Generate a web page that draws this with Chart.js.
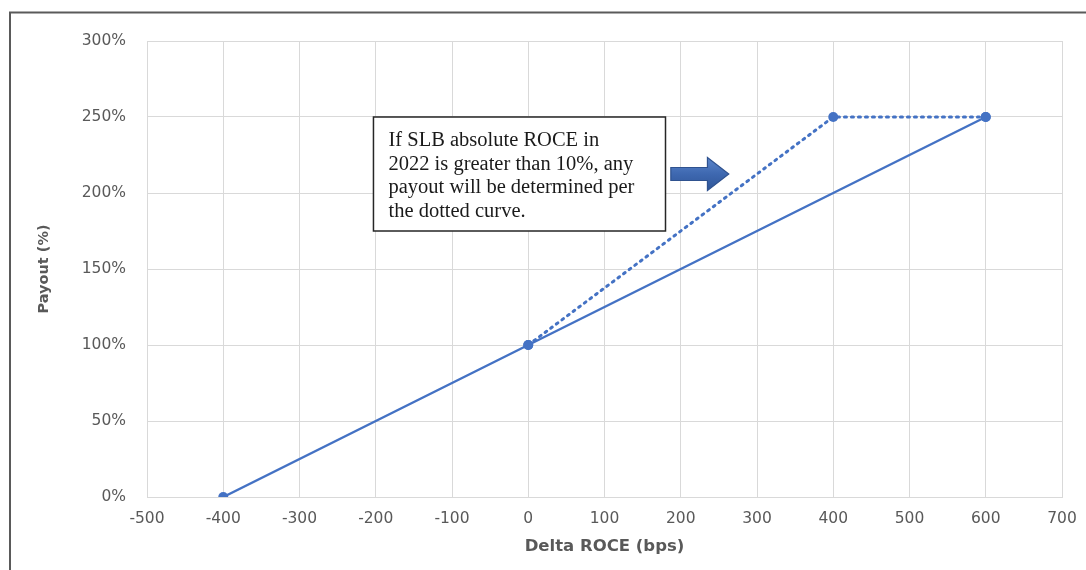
<!DOCTYPE html>
<html>
<head>
<meta charset="utf-8">
<script src="https://cdn.jsdelivr.net/npm/chart.js@4.4.0/dist/chart.umd.min.js"></script>
<style>
  html, body { margin: 0; padding: 0; background: #ffffff; }
  #wrap { width: 1086px; height: 570px; position: relative; }
</style>
</head>
<body>
<div id="wrap"><canvas id="c" width="1086" height="570"></canvas></div>
<script>
// ---- data ----
const baseX = [-400, 0, 600];
const baseY = [0, 100, 250];
const dottedX = [0, 400, 600];
const dottedY = [100, 250, 250];
const xTicks = [-500, -400, -300, -200, -100, 0, 100, 200, 300, 400, 500, 600, 700];
const yTicks = [0, 50, 100, 150, 200, 250, 300];
const noteLines = [
  "If SLB absolute ROCE in",
  "2022 is greater than 10%, any",
  "payout will be determined per",
  "the dotted curve."
];
const xTitle = "Delta ROCE (bps)";
const yTitle = "Payout (%)";

const blue = '#4472c4';
const gridCol = '#d9d9d9';
const txtCol = '#595959';
const sansFam = '"DejaVu Sans", "Open Sans", sans-serif';

const framePlugin = {
  id: 'frame',
  beforeDraw(chart) {
    const ctx = chart.ctx;
    ctx.save();
    ctx.fillStyle = '#ffffff';
    ctx.fillRect(0, 0, chart.width, chart.height);
    ctx.strokeStyle = '#5a5a5a';
    ctx.lineWidth = 2;
    ctx.beginPath();
    ctx.moveTo(10, 570);
    ctx.lineTo(10, 12.5);
    ctx.lineTo(1086, 12.5);
    ctx.stroke();
    ctx.restore();
  }
};

const notePlugin = {
  id: 'note',
  afterDatasetsDraw(chart) {
    const ctx = chart.ctx;
    const xs = chart.scales.x, ys = chart.scales.y;
    const l = xs.getPixelForValue(-203), r = xs.getPixelForValue(180);
    const t = ys.getPixelForValue(250), b = ys.getPixelForValue(175);
    ctx.save();
    ctx.fillStyle = '#ffffff';
    ctx.fillRect(l, t, r - l, b - t);
    ctx.strokeStyle = '#262626';
    ctx.lineWidth = 1.5;
    ctx.strokeRect(l, t, r - l, b - t);
    ctx.fillStyle = '#1a1a1a';
    ctx.font = '20.5px "Liberation Serif", "Times New Roman", serif';
    ctx.textBaseline = 'middle';
    ctx.textAlign = 'left';
    noteLines.forEach((s, i) => {
      ctx.fillText(s, l + 15, t + 24 + i * 23.5);
    });
    // arrow
    const ax0 = xs.getPixelForValue(187), ax1 = xs.getPixelForValue(263);
    const axh = xs.getPixelForValue(235);
    const yc = ys.getPixelForValue(212.5);
    const bodyH = 6.5, headH = 16.5;
    ctx.beginPath();
    ctx.moveTo(ax0, yc - bodyH);
    ctx.lineTo(axh, yc - bodyH);
    ctx.lineTo(axh, yc - headH);
    ctx.lineTo(ax1, yc);
    ctx.lineTo(axh, yc + headH);
    ctx.lineTo(axh, yc + bodyH);
    ctx.lineTo(ax0, yc + bodyH);
    ctx.closePath();
    const g = ctx.createLinearGradient(0, yc - headH, 0, yc + headH);
    g.addColorStop(0, '#5b86cc');
    g.addColorStop(0.5, '#3e68b0');
    g.addColorStop(1, '#2f5597');
    ctx.fillStyle = g;
    ctx.fill();
    ctx.strokeStyle = '#2f528f';
    ctx.lineWidth = 1.2;
    ctx.stroke();
    ctx.restore();
  }
};

const toXY = (xa, ya) => xa.map((v, i) => ({ x: v, y: ya[i] }));

new Chart(document.getElementById('c'), {
  type: 'scatter',
  data: {
    datasets: [
      {
        data: toXY(dottedX, dottedY),
        showLine: true,
        borderColor: blue,
        backgroundColor: blue,
        borderWidth: 3,
        borderDash: [2, 5],
        borderCapStyle: 'round',
        pointRadius: 5,
        pointHoverRadius: 5,
        pointBorderWidth: 0,
        tension: 0
      },
      {
        data: toXY(baseX, baseY),
        showLine: true,
        borderColor: blue,
        backgroundColor: blue,
        borderWidth: 2.4,
        pointRadius: 5,
        pointHoverRadius: 5,
        pointBorderWidth: 0,
        tension: 0
      }
    ]
  },
  options: {
    responsive: false,
    animation: false,
    devicePixelRatio: 1,
    layout: { padding: { top: 41, right: 24, left: 0, bottom: 0 } },
    plugins: { legend: { display: false }, tooltip: { enabled: false } },
    scales: {
      x: {
        type: 'linear',
        min: -500, max: 700,
        afterBuildTicks(s) { s.ticks = xTicks.map(v => ({ value: v })); },
        afterFit(s) { s.height = 73; s.paddingRight = 0; },
        grid: { color: gridCol, lineWidth: 1, drawTicks: false },
        border: { color: gridCol, width: 1 },
        ticks: { color: txtCol, padding: 13, font: { family: sansFam, size: 15.5 }, maxRotation: 0, autoSkip: false },
        title: { display: true, text: xTitle, color: txtCol, font: { family: sansFam, size: 16.5, weight: 'bold' }, padding: { top: 0, bottom: 13 } }
      },
      y: {
        type: 'linear',
        min: 0, max: 300,
        afterBuildTicks(s) { s.ticks = yTicks.map(v => ({ value: v })); },
        afterFit(s) { s.width = 147; },
        grid: { color: gridCol, lineWidth: 1, drawTicks: false },
        border: { color: gridCol, width: 1 },
        ticks: { color: txtCol, padding: 21, font: { family: sansFam, size: 15.5 }, callback: v => v + '%' },
        title: { display: true, text: yTitle, color: txtCol, font: { family: sansFam, size: 14.5, weight: 'bold' }, padding: { top: 36, bottom: 0 } }
      }
    }
  },
  plugins: [framePlugin, notePlugin]
});
</script>
</body>
</html>
